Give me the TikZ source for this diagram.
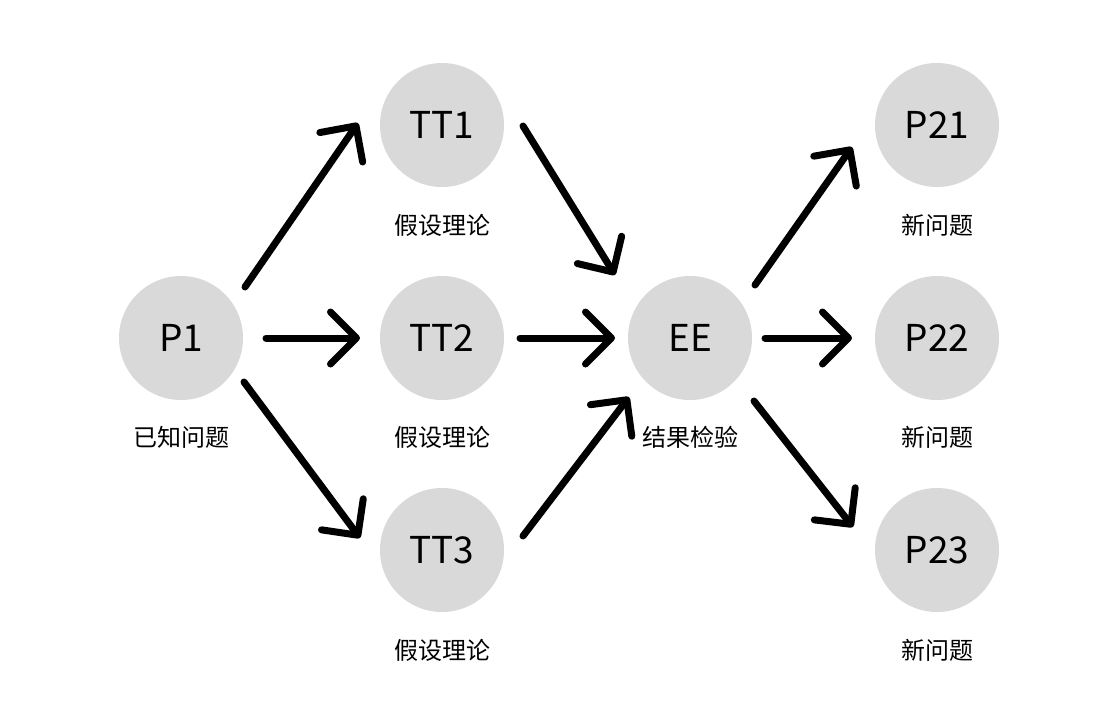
\documentclass[tikz,border=0pt]{standalone}
\usepackage{fontspec}
\setmainfont{Noto Sans CJK SC}
\usetikzlibrary{arrows.meta}
\definecolor{circfill}{HTML}{D9D9D9}
\tikzset{
  circ/.style={circle, fill=circfill, minimum size=124pt, inner sep=0pt, font=\fontsize{37}{40}\selectfont},
  lbl/.style={font=\fontsize{24}{26}\selectfont, inner sep=0pt},
  arr/.style={line width=7pt, line cap=round, -{Straight Barb[length=26pt, width=52pt, line cap=round, line join=round]}}
}
\begin{document}
\begin{tikzpicture}[x=1pt,y=-1pt]
\useasboundingbox[fill=white] (0,0) rectangle (1120,716);
\node[circ] (P1) at (181,338) {P1};
\node[circ] (TT1) at (442,125) {TT1};
\node[circ] (TT2) at (442,338) {TT2};
\node[circ] (TT3) at (442,550) {TT3};
\node[circ] (EE) at (690,338) {EE};
\node[circ] (P21) at (937,125) {P21};
\node[circ] (P22) at (937,338) {P22};
\node[circ] (P23) at (937,550) {P23};
\node[lbl] (lP1) at (181,437) {已知问题};
\node[lbl] (lT1) at (442,225) {假设理论};
\node[lbl] (lT2) at (442,437) {假设理论};
\node[lbl] (lT3) at (442,650) {假设理论};
\node[lbl] (lEE) at (690,437) {结果检验};
\node[lbl] (l21) at (937,225) {新问题};
\node[lbl] (l22) at (937,437) {新问题};
\node[lbl] (l23) at (937,650) {新问题};
\draw[arr] ([shift={(64,-51)}]P1.center) -- ([shift={(-84,-2)}]TT1.center);
\draw[arr] ([shift={(85,0)}]P1.center) -- ([shift={(-82,0)}]TT2.center);
\draw[arr] ([shift={(63,44)}]P1.center) -- ([shift={(-82,-12)}]TT3.center);
\draw[arr] ([shift={(81,1)}]TT1.center) -- ([shift={(-75,-63)}]EE.center);
\draw[arr] ([shift={(78,0)}]TT2.center) -- ([shift={(-75,0)}]EE.center);
\draw[arr] ([shift={(81,-14)}]TT3.center) -- ([shift={(-61,59)}]EE.center);
\draw[arr] ([shift={(65,-53)}]EE.center) -- ([shift={(-85,22)}]P21.center);
\draw[arr] ([shift={(75,0)}]EE.center) -- ([shift={(-85,0)}]P22.center);
\draw[arr] ([shift={(64,63)}]EE.center) -- ([shift={(-84,-23)}]P23.center);
\end{tikzpicture}
\end{document}
